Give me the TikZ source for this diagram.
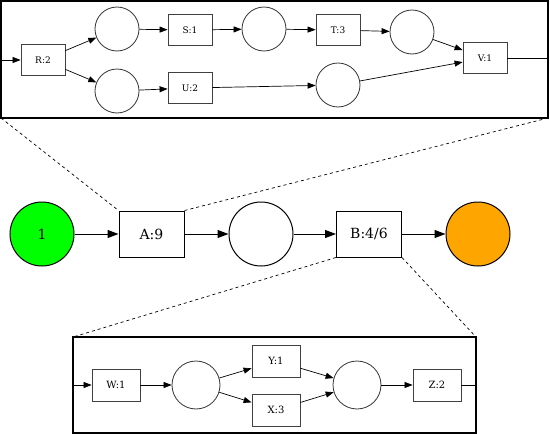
\documentclass[tikz,border=0pt]{standalone}
\usepackage{fontspec}
\setmainfont{DejaVu Serif}
\usetikzlibrary{arrows.meta,positioning}
\definecolor{endorange}{HTML}{FFA500}
\tikzset{
  trans/.style={draw, rectangle, line width=1pt, minimum width=65pt, minimum height=46pt, inner sep=0pt, font=\fontsize{14}{16}\selectfont},
  place/.style={draw, circle, line width=1pt, minimum size=64pt, inner sep=0pt, font=\fontsize{14}{16}\selectfont},
  arc/.style={line width=1pt, -{Triangle[length=11pt,width=8pt]}},
  smalltrans/.style={draw=black!75, rectangle, line width=0.8pt, minimum width=44pt, minimum height=31pt, inner sep=0pt, font=\fontsize{9}{11}\selectfont},
  smallplace/.style={draw=black!80, circle, line width=0.8pt, minimum size=44pt, inner sep=0pt},
  midtrans/.style={smalltrans, minimum width=48pt, minimum height=32pt, font=\fontsize{10}{12}\selectfont},
  midplace/.style={smallplace, minimum size=48pt},
  smallarc/.style={line width=0.7pt, -{Triangle[length=8pt,width=6pt]}},
  frame/.style={line width=2pt},
  zoomline/.style={dashed, line width=0.7pt}
}
\begin{document}
\begin{tikzpicture}[x=1pt,y=-1pt]
  \useasboundingbox (0,0) rectangle (550,434);
  % main net
  \node[place, fill=green] (start) at (42,234) {1};
  \node[trans] (A) at (151.5,234) {A:9};
  \node[place] (p1) at (261,234) {};
  \node[trans] (B) at (369,234) {B:4/6};
  \node[place, fill=endorange] (finish) at (478,234) {};
  \draw[arc] (start) -- (A);
  \draw[arc] (A) -- (p1);
  \draw[arc] (p1) -- (B);
  \draw[arc] (B) -- (finish);

  % expansion of A
  \coordinate (topNW) at (1,1);
  \coordinate (topSE) at (548,118);
  \coordinate (topSW) at (1,118);
  \coordinate (topNE) at (548,1);
  \draw[frame] (topNW) rectangle (topSE);
  \draw[zoomline] (topSW) -- (A.north west);
  \draw[zoomline] (topSE) -- (A.north east);
  \node[smalltrans] (R) at (43,60) {R:2};
  \node[smallplace] (r1) at (117,29) {};
  \node[smallplace] (r2) at (117,91) {};
  \node[smalltrans] (S) at (190,30) {S:1};
  \node[smalltrans] (U) at (190,88) {U:2};
  \node[smallplace] (s1) at (264,29) {};
  \node[smalltrans] (T) at (338,30) {T:3};
  \node[smallplace] (t1) at (412,32) {};
  \node[smallplace] (u1) at (338,85) {};
  \node[smalltrans] (V) at (485,58) {V:1};
  \coordinate (rin) at (1,60);
  \coordinate (vout) at (548,58);
  \draw[smallarc] (rin) -- (R);
  \draw[smallarc] (R) -- (r1);
  \draw[smallarc] (R) -- (r2);
  \draw[smallarc] (r1) -- (S);
  \draw[smallarc] (S) -- (s1);
  \draw[smallarc] (s1) -- (T);
  \draw[smallarc] (T) -- (t1);
  \draw[smallarc] (t1) -- (V);
  \draw[smallarc] (r2) -- (U);
  \draw[smallarc] (U) -- (u1);
  \draw[smallarc] (u1) -- (V);
  \draw[line width=0.7pt] (V) -- (vout);

  % expansion of B
  \coordinate (botNW) at (73,337);
  \coordinate (botNE) at (476,337);
  \coordinate (botSE) at (476,433);
  \draw[frame] (botNW) rectangle (botSE);
  \draw[zoomline] (B.south west) -- (botNW);
  \draw[zoomline] (B.south east) -- (botNE);
  \node[midtrans] (W) at (116,385) {W:1};
  \node[midplace] (w1) at (196,385) {};
  \node[midtrans] (Y) at (276,361) {Y:1};
  \node[midtrans] (X) at (276,410) {X:3};
  \node[midplace] (x1) at (357,385) {};
  \node[midtrans] (Z) at (437,385) {Z:2};
  \coordinate (win) at (73,385);
  \coordinate (zout) at (476,385);
  \draw[smallarc] (win) -- (W);
  \draw[smallarc] (W) -- (w1);
  \draw[smallarc] (w1) -- (Y);
  \draw[smallarc] (w1) -- (X);
  \draw[smallarc] (Y) -- (x1);
  \draw[smallarc] (X) -- (x1);
  \draw[smallarc] (x1) -- (Z);
  \draw[line width=0.7pt] (Z) -- (zout);
\end{tikzpicture}
\end{document}
